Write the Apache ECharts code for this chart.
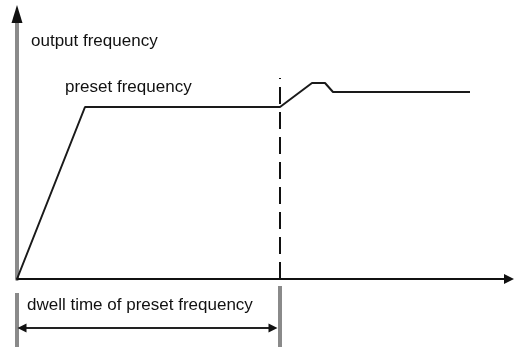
<!DOCTYPE html>
<html>
<head>
<meta charset="utf-8">
<script src="https://cdn.jsdelivr.net/npm/echarts@6/dist/echarts.min.js"></script>
<style>
  html, body { margin: 0; padding: 0; background: #fff; }
  #chart { width: 515px; height: 351px; }
</style>
</head>
<body>
<div id="chart"></div>
<script>
// output frequency curve (x: time, y: frequency)
const freqX = [0, 68, 263, 295, 308, 316, 453];
const freqY = [0, 172, 172, 196, 196, 187, 187];
// dashed line at end of dwell time
const dwellX = [263, 263];
const dwellY = [0, 201];
// dimension marks below the axis
const leftBarY = [-14, -68];
const rightBarY = [-7, -68];
const spanX = [5, 256];
const spanY = -49;

const labels = {
    yName: 'output frequency',
    preset: 'preset frequency',
    dwell: 'dwell time of preset frequency'
};

const chart = echarts.init(document.getElementById('chart'));

function pairs(xs, ys) {
    return xs.map(function (x, i) { return [x, ys[i]]; });
}

const font = '17px "Liberation Sans", Arial, sans-serif';

option = {
    animation: false,
    grid: { left: 17, right: 6, top: 14, bottom: 72 },
    xAxis: {
        type: 'value', min: 0, max: 492,
        axisLine: {
            show: true, onZero: false,
            symbol: ['none', 'triangle'], symbolSize: [10, 10],
            lineStyle: { color: '#111', width: 2 }
        },
        axisTick: { show: false }, axisLabel: { show: false }, splitLine: { show: false }
    },
    yAxis: {
        type: 'value', min: 0, max: 265,
        axisLine: {
            show: true,
            lineStyle: { color: '#8a8a8a', width: 4 }
        },
        axisTick: { show: false }, axisLabel: { show: false }, splitLine: { show: false }
    },
    graphic: [
        { type: 'text', left: 31, top: 33, style: { text: labels.yName, font: font, fill: '#111' } },
        { type: 'text', left: 65, top: 79, style: { text: labels.preset, font: font, fill: '#111' } },
        { type: 'text', left: 27, top: 297, style: { text: labels.dwell, font: font, fill: '#111' } }
    ],
    series: [
        {
            type: 'line', data: pairs(freqX, freqY), showSymbol: false,
            lineStyle: { color: '#1a1a1a', width: 2 }, z: 3
        },
        {
            type: 'line', data: pairs(dwellX, dwellY), showSymbol: false,
            lineStyle: { color: '#111', width: 2, type: [17, 8] }
        },
        {
            type: 'line', data: [[0, leftBarY[0]], [0, leftBarY[1]]], showSymbol: false, clip: false,
            lineStyle: { color: '#8a8a8a', width: 4 }
        },
        {
            type: 'line', data: [[263, rightBarY[0]], [263, rightBarY[1]]], showSymbol: false, clip: false,
            lineStyle: { color: '#8a8a8a', width: 4 }
        },
        {
            type: 'line', clip: false,
            data: [
                { value: [spanX[0], spanY], symbolRotate: 90 },
                { value: [spanX[1], spanY], symbolRotate: -90 }
            ],
            symbol: 'triangle', symbolSize: [9, 9], showSymbol: true,
            itemStyle: { color: '#111' },
            lineStyle: { color: '#222', width: 2 }
        },
        {
            // arrow head on top of the y axis
            type: 'scatter', clip: false, silent: true, z: 10,
            data: [[0, 265]],
            symbol: 'triangle', symbolSize: [11, 18],
            itemStyle: { color: '#111', opacity: 1 }
        }
    ]
};

chart.setOption(option);
</script>
</body>
</html>
